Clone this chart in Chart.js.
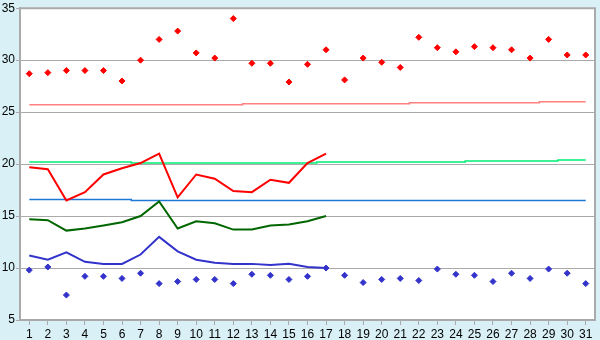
<!DOCTYPE html>
<html>
<head>
<meta charset="utf-8">
<script src="https://cdn.jsdelivr.net/npm/chart.js@4"></script>
<style>
  html, body { margin: 0; padding: 0; background: #d9f0f6; }
  #wrap { width: 600px; height: 340px; }
</style>
</head>
<body>
<div id="wrap"><canvas id="chart"></canvas></div>
<script>
// Day labels along the x axis
const days = Array.from({ length: 31 }, (_, i) => String(i + 1));
const yTicks = [5, 10, 15, 20, 25, 30, 35];

// Daily extremes (diamonds)
const maxTemps = [28.7, 28.8, 29.0, 29.0, 29.0, 28.0, 30.0, 32.0, 32.8, 30.7, 30.2, 34.0, 29.7, 29.7, 27.9, 29.6,
  31.0, 28.1, 30.2, 29.8, 29.3, 32.2, 31.2, 30.8, 31.3, 31.2, 31.0, 30.2, 32.0, 30.5, 30.5];
const minTemps = [9.8, 10.1, 7.4, 9.2, 9.2, 9.0, 9.5, 8.5, 8.7, 8.9, 8.9, 8.5, 9.4, 9.3, 8.9, 9.2,
  10.0, 9.3, 8.6, 8.9, 9.0, 8.8, 9.9, 9.4, 9.3, 8.7, 9.5, 9.0, 9.9, 9.5, 8.5];

// Running lines (first 17 days)
const redLine = [19.7, 19.5, 16.5, 17.3, 19.0, 19.6, 20.1, 21.0, 16.8, 19.0, 18.6, 17.4, 17.3, 18.5, 18.2, 20.1, 21.0];
const greenLine = [14.7, 14.6, 13.6, 13.8, 14.1, 14.4, 15.0, 16.4, 13.8, 14.5, 14.3, 13.7, 13.7, 14.1, 14.2, 14.5, 15.0];
const blueLine = [11.2, 10.8, 11.5, 10.6, 10.4, 10.4, 11.3, 13.0, 11.6, 10.8, 10.5, 10.4, 10.4, 10.3, 10.4, 10.1, 10.0];

// Reference lines (whole month)
const normHigh = [25.7, 25.7, 25.7, 25.7, 25.7, 25.7, 25.7, 25.7, 25.7, 25.7, 25.7, 25.7, 25.8, 25.8, 25.8, 25.8,
  25.8, 25.8, 25.8, 25.8, 25.8, 25.9, 25.9, 25.9, 25.9, 25.9, 25.9, 25.9, 26.0, 26.0, 26.0];
const normMid = [20.2, 20.2, 20.2, 20.2, 20.2, 20.2, 20.1, 20.1, 20.1, 20.1, 20.1, 20.1, 20.1, 20.1, 20.1, 20.1,
  20.2, 20.2, 20.2, 20.2, 20.2, 20.2, 20.2, 20.2, 20.3, 20.3, 20.3, 20.3, 20.3, 20.4, 20.4];
const normLow = [16.6, 16.6, 16.6, 16.6, 16.6, 16.6, 16.5, 16.5, 16.5, 16.5, 16.5, 16.5, 16.5, 16.5, 16.5, 16.5,
  16.5, 16.5, 16.5, 16.5, 16.5, 16.5, 16.5, 16.5, 16.5, 16.5, 16.5, 16.5, 16.5, 16.5, 16.5];

const gridColor = '#aaaaaa';

// Paint the background, the white plot area and its frame
const framePlugin = {
  id: 'frame',
  beforeDraw(chart) {
    const { ctx, chartArea: a } = chart;
    ctx.save();
    ctx.fillStyle = '#d9f0f6';
    ctx.fillRect(0, 0, chart.width, chart.height);
    ctx.fillStyle = '#ffffff';
    ctx.fillRect(a.left, a.top, a.right - a.left, a.bottom - a.top);
    ctx.restore();
  },
  afterDatasetsDraw(chart) {
    const { ctx, chartArea: a } = chart;
    ctx.save();
    ctx.strokeStyle = gridColor;
    ctx.lineWidth = 2;
    ctx.beginPath();
    ctx.moveTo(a.left, a.top);
    ctx.lineTo(a.right, a.top);
    ctx.lineTo(a.right, a.bottom);
    ctx.stroke();
    ctx.restore();
  }
};

function lineSet(data, color, width, order, stepped) {
  return {
    type: 'line',
    data: data,
    borderColor: color,
    borderWidth: width,
    pointRadius: 0,
    fill: false,
    tension: 0,
    stepped: stepped || false,
    order: order
  };
}

function pointSet(data, color, order) {
  return {
    type: 'line',
    data: data,
    showLine: false,
    pointStyle: 'rectRot',
    pointRadius: 3,
    pointBackgroundColor: color,
    pointBorderColor: color,
    pointBorderWidth: 1,
    order: order
  };
}

new Chart(document.getElementById('chart'), {
  type: 'line',
  data: {
    labels: days,
    datasets: [
      pointSet(maxTemps, '#ff0000', 1),
      pointSet(minTemps, '#3333cc', 2),
      lineSet(redLine, '#ff0000', 2, 3),
      lineSet(greenLine, '#006600', 2, 4),
      lineSet(blueLine, '#3333cc', 2, 5),
      lineSet(normHigh, '#ff8080', 1.5, 6, 'middle'),
      lineSet(normMid, '#00ee77', 1.5, 7, 'middle'),
      lineSet(normLow, '#1e78d8', 1.5, 8, 'middle')
    ]
  },
  options: {
    responsive: true,
    maintainAspectRatio: false,
    animation: false,
    layout: { padding: { top: 5, right: 5, left: 0, bottom: 0 } },
    plugins: {
      legend: { display: false },
      tooltip: { enabled: false }
    },
    scales: {
      x: {
        offset: true,
        afterFit(scale) { scale.height = 20; },
        grid: {
          drawOnChartArea: false,
          drawTicks: true,
          tickLength: 5,
          color: gridColor,
          offset: false
        },
        border: { color: gridColor, width: 2 },
        ticks: {
          color: '#000',
          padding: 2,
          maxRotation: 0,
          autoSkip: false,
          font: { family: 'Liberation Sans', size: 12 }
        }
      },
      y: {
        min: 5,
        max: 35,
        afterFit(scale) { scale.width = 20; },
        afterBuildTicks(scale) { scale.ticks = yTicks.map(v => ({ value: v })); },
        grid: {
          color: gridColor,
          lineWidth: 1,
          drawTicks: true,
          tickLength: 4
        },
        border: { color: gridColor, width: 2 },
        ticks: {
          color: '#000',
          padding: 1,
          font: { family: 'Liberation Sans', size: 12 }
        }
      }
    }
  },
  plugins: [framePlugin]
});
</script>
</body>
</html>
